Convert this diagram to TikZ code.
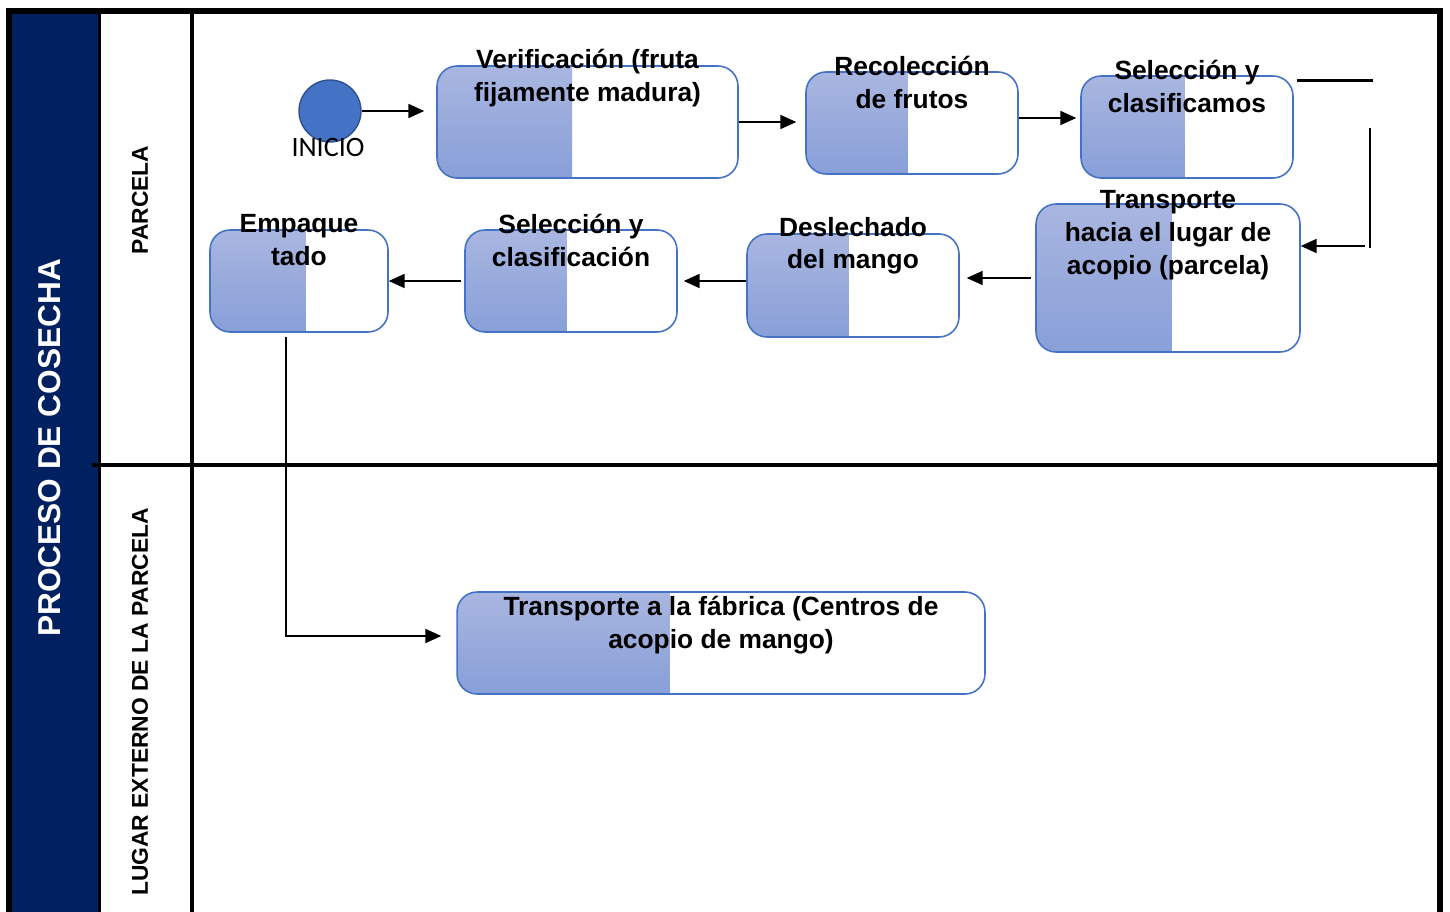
\documentclass[tikz,border=0pt]{standalone}
\usepackage{fontspec}
\setmainfont{Liberation Sans}
\newfontfamily\calfont{Carlito}
\usetikzlibrary{calc,arrows.meta}
\definecolor{navy}{HTML}{002060}
\definecolor{boxblue}{HTML}{4472C4}
\definecolor{shadetop}{HTML}{A9B6E0}
\definecolor{shadebot}{HTML}{889FD8}
\definecolor{startedge}{HTML}{2F528F}
\tikzset{
  paso/.style={draw=boxblue, line width=0.9pt, rounded corners=0.4cm, inner sep=0pt,
    path picture={\shade[sharp corners, top color=shadetop, bottom color=shadebot]
      (path picture bounding box.south west) rectangle
      ($(path picture bounding box.north west)!#1!(path picture bounding box.north east)$);}},
  txt/.style={font=\bfseries\fontsize{15}{18.7}\selectfont, align=center, inner sep=0pt},
  carril/.style={rotate=90, font=\bfseries\fontsize{13}{16}\selectfont, inner sep=0pt},
  arr/.style={-{Triangle[length=9pt,width=8pt]}, line width=0.8pt}
}

\begin{document}
\begin{tikzpicture}[x=0.02cm, y=-0.02cm]
	%%%%% START %%%%%
	\useasboundingbox (0,0) rectangle (1450,912);
	
	% lanes
	\fill[navy] (12,13) rectangle (99,912);
	\draw[line width=1.2mm] (9,912) -- (9,11) -- (1440,11) -- (1440,912);
	\draw[line width=0.6mm] (99,13) -- (99,912);
	\draw[line width=0.8mm] (192,13) -- (192,912);
	\draw[line width=0.8mm] (92,465) -- (1437,465);
	
	\node[carril, text=white, font=\bfseries\fontsize{18}{22}\selectfont] (proceso) at (50,448) {PROCESO DE COSECHA};
	\node[carril] (parcela) at (140,200) {PARCELA};
	\node[carril] (externo) at (140,702) {LUGAR EXTERNO DE LA PARCELA};
	
	% start
	\node[circle, fill=boxblue, draw=startedge, line width=0.8pt, minimum size=1.24cm, inner sep=0pt] (inicio) at (330,111) {};
	\node[font=\calfont\fontsize{16}{19}\selectfont, inner sep=0pt] (inicio-t) at (328,147) {INICIO};
	
	% steps
	\node[paso=0.449, minimum width=6.02cm, minimum height=2.24cm] (verif) at (587.5,122) {};
	\node[paso=0.481, minimum width=4.24cm, minimum height=2.04cm] (recol) at (912,123) {};
	\node[paso=0.49, minimum width=4.24cm, minimum height=2.04cm] (selA) at (1187,127) {};
	\node[paso=0.515, minimum width=5.28cm, minimum height=2.96cm] (trans) at (1168,278) {};
	\node[paso=0.481, minimum width=4.24cm, minimum height=2.06cm] (desl) at (853,285.5) {};
	\node[paso=0.481, minimum width=4.24cm, minimum height=2.04cm] (selB) at (571,281) {};
	\node[paso=0.539, minimum width=3.56cm, minimum height=2.04cm] (empaq) at (299,281) {};
	\node[paso=0.403, minimum width=10.56cm, minimum height=2.04cm] (fabr) at (721,643) {};
	
	\node[txt] (verif-t) at ($(verif.north)+(0,13)$) {Verificación (fruta\\fijamente madura)};
	\node[txt] (recol-t) at ($(recol.north)+(0,11)$) {Recolección\\de frutos};
	\node[txt] (selA-t) at ($(selA.north)+(0,11)$) {Selección y\\clasificamos};
	\node[txt] (trans-t) at ($(trans.north)+(0,32)$) {Transporte\\hacia el lugar de\\acopio (parcela)};
	\node[txt] (desl-t) at ($(desl.north)+(0,12.5)$) {Deslechado\\del mango};
	\node[txt] (selB-t) at ($(selB.north)+(0,11)$) {Selección y\\clasificación};
	\node[txt] (empaq-t) at ($(empaq.north)+(0,11)$) {Empaque\\tado};
	\node[txt] (fabr-t) at ($(fabr.north)+(0,34)$) {Transporte a la fábrica (Centros de\\acopio de mango)};
	
	% connectors
	\draw[arr, shorten >=0.24cm] (inicio.east) -- (inicio.east -| verif.west);
	\draw[arr, shorten >=0.18cm] (verif.east) -- (verif.east -| recol.west);
	\draw[arr, shorten >=0.08cm] ($(recol.east)+(0,-5)$) -- ($(recol.east -| selA.west)+(0,-5)$);
	
	\coordinate (codo-a) at (1297,81);
	\coordinate (codo-b) at (1373,81);
	\coordinate (codo-c) at (1370,128);
	\coordinate (codo-d) at (1370,248);
	\coordinate (codo-e) at (1365,246);
	\draw[line width=0.6mm] (codo-a) -- (codo-b);
	\draw[line width=0.8pt] (codo-c) -- (codo-d);
	\draw[arr] (codo-e) -- (codo-e -| trans.east);
	
	\draw[arr, shorten <=0.08cm, shorten >=0.14cm] (trans.west) -- (trans.west -| desl.east);
	\draw[arr, shorten >=0.12cm] (desl.west |- selB.east) -- (selB.east);
	\draw[arr, shorten <=0.06cm] (selB.west) -- (selB.west -| empaq.east);
	\draw[arr, shorten >=0.3cm] ($(empaq.south)+(-13,4)$) |- ($(fabr.west)+(0,-7)$);
	
	%%%%% END %%%%%
\end{tikzpicture}
\end{document}
